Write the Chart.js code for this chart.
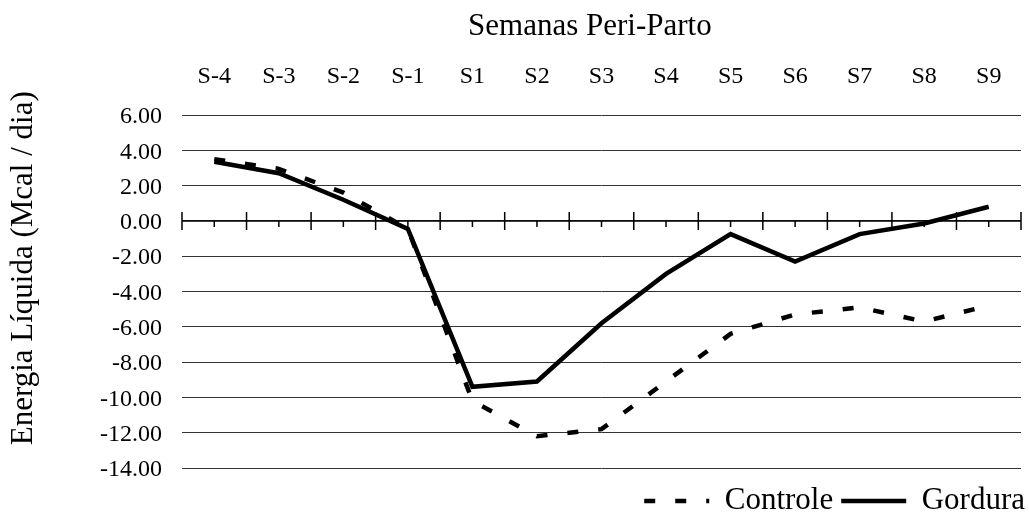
<!DOCTYPE html>
<html lang="pt">
<head>
    <meta charset="UTF-8">
    <title>Energia Líquida - Semanas Peri-Parto</title>
    <script src="https://cdn.jsdelivr.net/npm/chart.js"></script>
    <style>
        body { margin: 0; background: #fff; }
    </style>
</head>
<body>
    <canvas id="chart" width="1029" height="516"></canvas>

    <script>
        // semanas em torno do parto
        const weeks = ['S-4', 'S-3', 'S-2', 'S-1', 'S1', 'S2', 'S3', 'S4', 'S5', 'S6', 'S7', 'S8', 'S9'];
        const controle = [3.5, 2.95, 1.6, -0.45, -10.2, -12.2, -11.8, -9.1, -6.4, -5.3, -4.9, -5.7, -4.8];
        const gordura = [3.35, 2.7, 1.2, -0.45, -9.4, -9.1, -5.8, -3.0, -0.75, -2.3, -0.75, -0.15, 0.8];
        const yMin = -14;
        const yMax = 6;
        const yStep = 2;

        Chart.defaults.font.family = "'Liberation Serif', 'Times New Roman', serif";
        Chart.defaults.color = '#000';

        // eixo horizontal desenhado no zero, com marcas
        const zeroAxis = {
            id: 'zeroAxis',
            beforeDatasetsDraw(chart) {
                const { ctx, chartArea, scales: { x, y } } = chart;
                const y0 = y.getPixelForValue(0);
                const half = (x.getPixelForValue(1) - x.getPixelForValue(0)) / 2;
                ctx.save();
                ctx.strokeStyle = '#000';
                ctx.lineWidth = 1.5;
                ctx.beginPath();
                ctx.moveTo(chartArea.left, y0);
                ctx.lineTo(chartArea.right, y0);
                weeks.forEach((w, i) => {
                    const px = x.getPixelForValue(i);
                    ctx.moveTo(px, y0);
                    ctx.lineTo(px, y0 + 6);
                    ctx.moveTo(px - half, y0 - 9);
                    ctx.lineTo(px - half, y0 + 9);
                    if (i === weeks.length - 1) {
                        ctx.moveTo(px + half, y0 - 9);
                        ctx.lineTo(px + half, y0 + 9);
                    }
                });
                ctx.stroke();
                ctx.restore();
            }
        };

        const nb = '\u00a0';

        new Chart(document.getElementById('chart'), {
            type: 'line',
            data: {
                labels: weeks,
                datasets: [
                    {
                        label: 'Controle',
                        data: controle,
                        borderColor: '#000',
                        borderWidth: 4.5,
                        borderDash: [11, 20],
                        pointRadius: 0,
                        tension: 0,
                        fill: false
                    },
                    {
                        label: 'Gordura',
                        data: gordura,
                        borderColor: '#000',
                        borderWidth: 4.5,
                        pointRadius: 0,
                        tension: 0,
                        fill: false
                    }
                ]
            },
            options: {
                responsive: false,
                animation: false,
                devicePixelRatio: 1,
                layout: { padding: { top: 0, left: 0, right: -4, bottom: -10.5 } },
                scales: {
                    x: {
                        position: 'top',
                        offset: true,
                        grid: { display: false, drawTicks: false },
                        border: { display: false },
                        ticks: { font: { size: 24, lineHeight: 1 }, padding: 26, maxRotation: 0 },
                        title: {
                            display: true,
                            text: 'Semanas Peri-Parto' + nb + nb + nb,
                            font: { size: 31, lineHeight: 1 },
                            padding: { top: 11, bottom: 0 }
                        },
                        afterFit(scale) { scale.height = 115; }
                    },
                    y: {
                        min: yMin,
                        max: yMax,
                        ticks: {
                            stepSize: yStep,
                            font: { size: 24 },
                            padding: 20,
                            labelOffset: 2,
                            callback: (v) => Number(v).toFixed(2)
                        },
                        grid: { color: '#333', lineWidth: 1, drawTicks: false },
                        border: { display: false },
                        title: {
                            display: true,
                            text: nb.repeat(6) + 'Energia Líquida (Mcal / dia)',
                            font: { size: 31, lineHeight: 1 },
                            padding: { top: 8.5, bottom: 0 }
                        },
                        afterFit(scale) { scale.width = 182; }
                    },
                    // só reserva a margem direita do gráfico
                    yRight: {
                        position: 'right',
                        grid: { display: false, drawTicks: false },
                        border: { display: false },
                        ticks: { display: false },
                        afterFit(scale) { scale.width = 12; }
                    }
                },
                plugins: {
                    tooltip: { enabled: false },
                    legend: {
                        position: 'bottom',
                        align: 'end',
                        title: {
                            display: true,
                            text: '',
                            font: { size: 1 },
                            padding: { top: 8.3, bottom: 0 }
                        },
                        labels: {
                            font: { size: 31 },
                            padding: 8,
                            usePointStyle: true,
                            pointStyle: 'line',
                            pointStyleWidth: 65,
                            generateLabels(chart) {
                                const items = Chart.defaults.plugins.legend.labels.generateLabels(chart);
                                return items.map(item => {
                                    const ds = chart.data.datasets[item.datasetIndex];
                                    item.lineDash = ds.borderDash || [];
                                    item.lineWidth = ds.borderWidth;
                                    item.strokeStyle = ds.borderColor;
                                    return item;
                                });
                            }
                        }
                    }
                }
            },
            plugins: [zeroAxis]
        });
    </script>
</body>
</html>
